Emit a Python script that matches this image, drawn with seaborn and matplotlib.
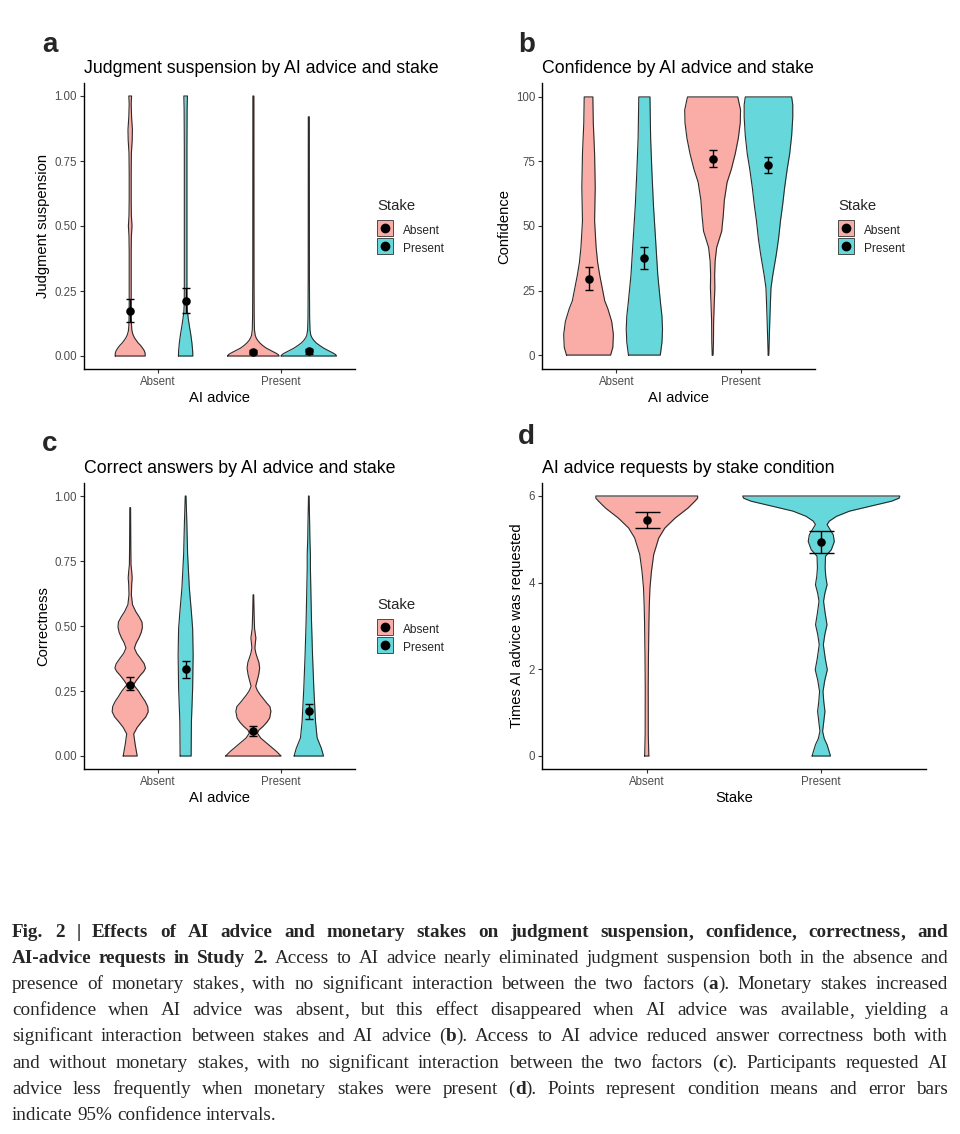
import numpy as np
import pandas as pd
import seaborn as sns
import matplotlib.pyplot as plt
from matplotlib.lines import Line2D
from matplotlib.colors import to_rgba

# ggplot default colours for two groups
PINK = "#F8766D"
TEAL = "#00BFC4"

ai_levels = ["Absent", "Present"]
stake_levels = ["Absent", "Present"]

# violin outlines: value levels (y) and half-widths (w, 1 = widest violin)
# naming: <panel>_<AI advice><Stake>, A = Absent, P = Present

# ---- a: judgment suspension ----
a_AA_y = [0, 0.01, 0.02, 0.03, 0.04, 0.05, 0.06, 0.07, 0.08, 0.09, 0.10, 0.12, 0.15, 0.2, 0.3, 0.4,
          0.46, 0.5, 0.54, 0.6, 0.7, 0.78, 0.83, 0.87, 0.92, 0.97, 1.0]
a_AA_w = [0.54, 0.54, 0.51, 0.45, 0.38, 0.29, 0.22, 0.155, 0.11, 0.08, 0.06, 0.047, 0.04, 0.036, 0.036, 0.036,
          0.043, 0.065, 0.043, 0.036, 0.036, 0.043, 0.072, 0.08, 0.05, 0.036, 0.05]
a_AP_y = [0, 0.02, 0.05, 0.08, 0.11, 0.14, 0.17, 0.2, 0.25, 0.4, 0.6, 0.8, 0.95, 1.0]
a_AP_w = [0.26, 0.253, 0.227, 0.19, 0.144, 0.1, 0.065, 0.05, 0.047, 0.047, 0.047, 0.047, 0.054, 0.065]
a_PA_y = [0, 0.005, 0.01, 0.02, 0.03, 0.04, 0.05, 0.06, 0.07, 0.08, 0.1, 0.15, 0.3, 1.0]
a_PA_w = [0.93, 0.9, 0.83, 0.65, 0.47, 0.34, 0.235, 0.155, 0.1, 0.065, 0.04, 0.029, 0.022, 0.018]
a_PP_y = [0, 0.005, 0.01, 0.02, 0.03, 0.04, 0.05, 0.06, 0.07, 0.08, 0.1, 0.15, 0.3, 0.92]
a_PP_w = [1.0, 0.97, 0.9, 0.72, 0.54, 0.4, 0.27, 0.18, 0.115, 0.072, 0.043, 0.029, 0.022, 0.018]
a_mean = [0.174, 0.211, 0.016, 0.018]
a_lo = [0.130, 0.165, 0.007, 0.009]
a_hi = [0.219, 0.260, 0.025, 0.027]

# ---- b: confidence ----
b_AA_y = [0, 3, 8, 13, 18, 21, 26, 31, 36, 42, 52, 65, 78, 90, 100]
b_AA_w = [0.79, 0.87, 0.89, 0.83, 0.69, 0.58, 0.49, 0.4, 0.325, 0.27, 0.217, 0.24, 0.217, 0.17, 0.155]
b_AP_y = [0, 5, 10, 15, 21, 31, 45, 58, 71, 84, 100]
b_AP_w = [0.57, 0.63, 0.65, 0.63, 0.57, 0.48, 0.4, 0.325, 0.27, 0.224, 0.2]
b_PA_y = [0, 5, 13, 20, 26, 31, 36.5, 41.7, 48, 54, 60, 67, 72, 78, 84, 90, 95, 100]
b_PA_w = [0.015, 0.03, 0.036, 0.058, 0.08, 0.072, 0.09, 0.145, 0.325, 0.38, 0.42, 0.52, 0.67, 0.81, 0.92,
          0.99, 1.0, 0.9]
b_PP_y = [0, 5, 13, 20, 26, 31, 39, 45, 52, 58, 65, 72, 78, 85, 92, 97, 100]
b_PP_w = [0.011, 0.025, 0.047, 0.069, 0.09, 0.155, 0.28, 0.36, 0.43, 0.505, 0.58, 0.67, 0.76, 0.83, 0.87,
          0.87, 0.83]
b_mean = [29.5, 37.6, 76.0, 73.6]
b_lo = [25.2, 33.3, 72.9, 70.5]
b_hi = [34.0, 42.0, 79.3, 76.7]

# ---- c: correctness ----
c_AA_y = [0, 0.044, 0.085, 0.11, 0.133, 0.15, 0.17, 0.19, 0.21, 0.23, 0.25, 0.274, 0.29, 0.31, 0.325,
          0.338, 0.355, 0.377, 0.395, 0.415, 0.435, 0.454, 0.475, 0.495, 0.515, 0.535, 0.556, 0.582, 0.62,
          0.66, 0.685, 0.71, 0.736, 0.8, 0.955]
c_AA_w = [0.253, 0.18, 0.126, 0.253, 0.422, 0.56, 0.65, 0.632, 0.542, 0.415, 0.3, 0.119, 0.217, 0.361,
          0.487, 0.552, 0.505, 0.361, 0.235, 0.152, 0.217, 0.314, 0.397, 0.44, 0.426, 0.325, 0.199, 0.083,
          0.043, 0.054, 0.072, 0.054, 0.029, 0.022, 0.014]
c_AP_y = [0, 0.133, 0.26, 0.39, 0.49, 0.556, 0.646, 0.775, 0.9, 1.0]
c_AP_w = [0.199, 0.209, 0.253, 0.271, 0.253, 0.206, 0.134, 0.072, 0.043, 0.014]
c_PA_y = [0, 0.018, 0.044, 0.069, 0.088, 0.1, 0.114, 0.13, 0.146, 0.172, 0.19, 0.204, 0.22, 0.236, 0.252,
          0.268, 0.29, 0.313, 0.338, 0.36, 0.377, 0.395, 0.415, 0.435, 0.454, 0.49, 0.55, 0.62]
c_PA_w = [1.0, 0.83, 0.542, 0.264, 0.144, 0.199, 0.35, 0.487, 0.588, 0.632, 0.596, 0.48, 0.361, 0.242,
          0.144, 0.083, 0.137, 0.191, 0.227, 0.199, 0.144, 0.09, 0.054, 0.072, 0.09, 0.043, 0.025, 0.011]
c_PP_y = [0, 0.03, 0.07, 0.133, 0.26, 0.39, 0.52, 0.646, 0.72, 0.775, 0.83, 0.9, 1.0]
c_PP_w = [0.531, 0.451, 0.3, 0.242, 0.181, 0.134, 0.097, 0.072, 0.058, 0.058, 0.04, 0.029, 0.011]
c_mean = [0.274, 0.335, 0.095, 0.174]
c_lo = [0.253, 0.300, 0.078, 0.143]
c_hi = [0.302, 0.364, 0.115, 0.200]

# ---- d: AI advice requests by stake ----
d_A_y = [0, 0.03, 0.5, 1.57, 2.3, 3.11, 3.5, 3.88, 4.26, 4.65, 5.03, 5.26, 5.49, 5.72, 5.88, 5.95, 6.0]
d_A_w = [0.029, 0.026, 0.02, 0.019, 0.022, 0.028, 0.033, 0.041, 0.06, 0.089, 0.153, 0.23, 0.361, 0.524,
         0.613, 0.648, 0.648]
d_P_y = [0, 0.13, 0.26, 0.4, 0.57, 0.8, 1.03, 1.25, 1.49, 1.75, 1.99, 2.25, 2.57, 2.8, 3.03, 3.3, 3.57,
         3.75, 3.95, 4.15, 4.34, 4.61, 4.76, 4.95, 5.1, 5.18, 5.34, 5.42, 5.53, 5.65, 5.76, 5.88, 5.95, 6.0]
d_P_w = [0.117, 0.096, 0.074, 0.038, 0.017, 0.032, 0.047, 0.032, 0.022, 0.045, 0.077, 0.051, 0.026, 0.045,
         0.073, 0.049, 0.029, 0.045, 0.074, 0.057, 0.049, 0.054, 0.128, 0.166, 0.153, 0.128, 0.074, 0.102,
         0.192, 0.358, 0.613, 0.894, 0.99, 1.0]
d_mean = [5.44, 4.94]
d_lo = [5.26, 4.68]
d_hi = [5.62, 5.19]

# caption lines, ** toggles bold
caption = [
    "**Fig. 2 | Effects of AI advice and monetary stakes on judgment suspension, confidence, correctness, and**",
    "**AI-advice requests in Study 2.** Access to AI advice nearly eliminated judgment suspension both in the absence and",
    "presence of monetary stakes, with no significant interaction between the two factors (**a**). Monetary stakes increased",
    "confidence when AI advice was absent, but this effect disappeared when AI advice was available, yielding a",
    "significant interaction between stakes and AI advice (**b**). Access to AI advice reduced answer correctness both with",
    "and without monetary stakes, with no significant interaction between the two factors (**c**). Participants requested AI",
    "advice less frequently when monetary stakes were present (**d**). Points represent condition means and error bars",
    "indicate 95% confidence intervals.",
]

sns.set_theme(style="ticks", rc={"axes.edgecolor": "black", "axes.linewidth": 1.0})
plt.rcParams["font.family"] = ["Liberation Sans", "DejaVu Sans"]

W, H = 960, 1134
fig = plt.figure(figsize=(W / 100, H / 100), dpi=100)


def add_ax(l, t, r, b):
    return fig.add_axes([l / W, 1 - b / H, (r - l) / W, (b - t) / H])


def violin(ax, pos, ys, ws, half, color):
    ys = np.asarray(ys, float)
    ws = np.asarray(ws, float) * half
    ax.fill_betweenx(ys, pos - ws, pos + ws, color=color, alpha=0.6, lw=0, zorder=2)
    xs = np.r_[pos - ws, (pos + ws)[::-1], pos - ws[0]]
    yy = np.r_[ys, ys[::-1], ys[0]]
    ax.plot(xs, yy, color="#2b2b2b", lw=0.8, zorder=3, solid_joinstyle="round")


def means(ax, xs, m, lo, hi, capsize):
    m = np.asarray(m); lo = np.asarray(lo); hi = np.asarray(hi)
    ax.errorbar(xs, m, yerr=[m - lo, hi - m], fmt="none", ecolor="black",
                elinewidth=1.0, capsize=capsize, capthick=1.0, zorder=4)
    sns.scatterplot(x=xs, y=m, color="black", s=38, linewidth=0, ax=ax, zorder=5, legend=False)


def style(ax, title, xlabel, ylabel, ylim, yticks, yticklabels):
    ax.set_xlim(0.4, 2.6)
    ax.set_ylim(*ylim)
    ax.set_xticks([1, 2], ai_levels)
    ax.set_yticks(yticks, yticklabels)
    ax.set_title(title, loc="left", fontsize=12.8, pad=7.5, color="black")
    ax.set_xlabel(xlabel, fontsize=10.6, labelpad=2, color="black")
    ax.set_ylabel(ylabel, fontsize=10.6, labelpad=3, color="black")
    ax.tick_params(length=2.75, width=0.8, pad=2.2, labelsize=8.3, colors="#333333", labelcolor="#4D4D4D")
    ax.grid(False)
    sns.despine(ax=ax)


def stake_legend(ax, lx, ly):
    handles = [(Line2D([], [], marker="s", ls="none", markersize=12.0, markerfacecolor=to_rgba(c, 0.6),
                       markeredgecolor="#333333", markeredgewidth=0.6),
                Line2D([], [], marker="o", ls="none", color="black", markersize=6))
               for c in (PINK, TEAL)]
    leg = ax.legend(handles, stake_levels, title="Stake", loc="upper left",
                    bbox_to_anchor=(lx / W, 1 - ly / H), bbox_transform=fig.transFigure,
                    frameon=False, fontsize=8.6, title_fontsize=10.7, handlelength=1.42,
                    handleheight=1.81, handletextpad=0.75, labelspacing=0.15,
                    borderpad=0, borderaxespad=0)
    leg._legend_box.align = "left"
    leg._legend_box.sep = 6.0  # room between the title and the keys


dodge = 0.225
x4 = [1 - dodge, 1 + dodge, 2 - dodge, 2 + dodge]
fills = [PINK, TEAL, PINK, TEAL]

# a
ax = add_ax(84, 83, 355, 369)
for x, ys, ws, col in zip(x4, [a_AA_y, a_AP_y, a_PA_y, a_PP_y], [a_AA_w, a_AP_w, a_PA_w, a_PP_w], fills):
    violin(ax, x, ys, ws, dodge, col)
means(ax, x4, a_mean, a_lo, a_hi, 3.2)
style(ax, "Judgment suspension by AI advice and stake", "AI advice", "Judgment suspension",
      (-0.05, 1.05), [0, 0.25, 0.5, 0.75, 1.0], ["0.00", "0.25", "0.50", "0.75", "1.00"])
stake_legend(ax, 377, 199)

# b
ax = add_ax(542, 83, 815, 369)
for x, ys, ws, col in zip(x4, [b_AA_y, b_AP_y, b_PA_y, b_PP_y], [b_AA_w, b_AP_w, b_PA_w, b_PP_w], fills):
    violin(ax, x, ys, ws, dodge, col)
means(ax, x4, b_mean, b_lo, b_hi, 3.2)
style(ax, "Confidence by AI advice and stake", "AI advice", "Confidence",
      (-5.4, 105.4), [0, 25, 50, 75, 100], ["0", "25", "50", "75", "100"])
stake_legend(ax, 838, 199)

# c
ax = add_ax(84, 483, 355, 769)
for x, ys, ws, col in zip(x4, [c_AA_y, c_AP_y, c_PA_y, c_PP_y], [c_AA_w, c_AP_w, c_PA_w, c_PP_w], fills):
    violin(ax, x, ys, ws, dodge, col)
means(ax, x4, c_mean, c_lo, c_hi, 3.2)
style(ax, "Correct answers by AI advice and stake", "AI advice", "Correctness",
      (-0.05, 1.05), [0, 0.25, 0.5, 0.75, 1.0], ["0.00", "0.25", "0.50", "0.75", "1.00"])
stake_legend(ax, 377, 598)

# d
ax = add_ax(542, 483, 926, 769)
violin(ax, 1, d_A_y, d_A_w, 0.45, PINK)
violin(ax, 2, d_P_y, d_P_w, 0.45, TEAL)
means(ax, [1, 2], d_mean, d_lo, d_hi, 9)
style(ax, "AI advice requests by stake condition", "Stake", "Times AI advice was requested",
      (-0.3, 6.3), [0, 2, 4, 6], ["0", "2", "4", "6"])

# panel letters
for letter, x, y in [("a", 42, 52), ("b", 518, 52), ("c", 42, 451), ("d", 518, 444)]:
    fig.text(x / W, 1 - y / H, letter, fontsize=20, fontweight="bold", va="baseline", ha="left")

# justified caption
serif = ["Liberation Serif", "DejaVu Serif"]
renderer = fig.canvas.get_renderer()


def parse(line):
    words, bold = [], False
    for raw in line.split(" "):
        segs = []
        for k, part in enumerate(raw.split("**")):
            if k > 0:
                bold = not bold
            if part.endswith(",") and len(part) > 1:
                # a trailing comma goes in its own piece so the word sits on the baseline
                segs.append((part[:-1], bold))
                segs.append((",", bold))
            elif part:
                segs.append((part, bold))
        words.append(segs)
    return words


def width(s, bold, size):
    t = fig.text(0, 0, s, fontsize=size, fontweight="bold" if bold else "normal", family=serif)
    w = t.get_window_extent(renderer).width
    t.remove()
    return w


def word_layout(segs, size):
    # offsets of each piece inside a word, and the word's full width
    offs, x, prev = [], 0.0, None
    for s, b in segs:
        if s == "," and prev is not None:
            ps, pb, px = prev
            x = px + width(ps + ",", pb, size) - width(",", b, size)
        offs.append(x)
        prev = (s, b, x)
        x += width(s, b, size)
    return offs, x


x0, x1 = 12, 948
size = 13.8
parsed = [parse(l) for l in caption]
space = width("a a", False, size) - width("aa", False, size)
natural = max(sum(word_layout(segs, size)[1] for segs in words) + space * (len(words) - 1)
              for words in parsed[:-1])
if natural > (x1 - x0):
    size = size * (x1 - x0) / natural * 0.995
    space = width("a a", False, size) - width("aa", False, size)

for i, words in enumerate(parsed):
    layouts = [word_layout(segs, size) for segs in words]
    total = sum(w for _, w in layouts)
    last = i == len(parsed) - 1
    gap = space if last else ((x1 - x0) - total) / (len(words) - 1)
    x = x0
    y = round(937 + 26.1 * i)  # whole-pixel baselines
    for segs, (offs, wlen) in zip(words, layouts):
        for (s, b), o in zip(segs, offs):
            fig.text((x + o) / W, 1 - y / H, s, fontsize=size, fontweight="bold" if b else "normal",
                     family=serif, va="baseline", ha="left")
        x += wlen + gap

fig.savefig("out.png", dpi=100)
